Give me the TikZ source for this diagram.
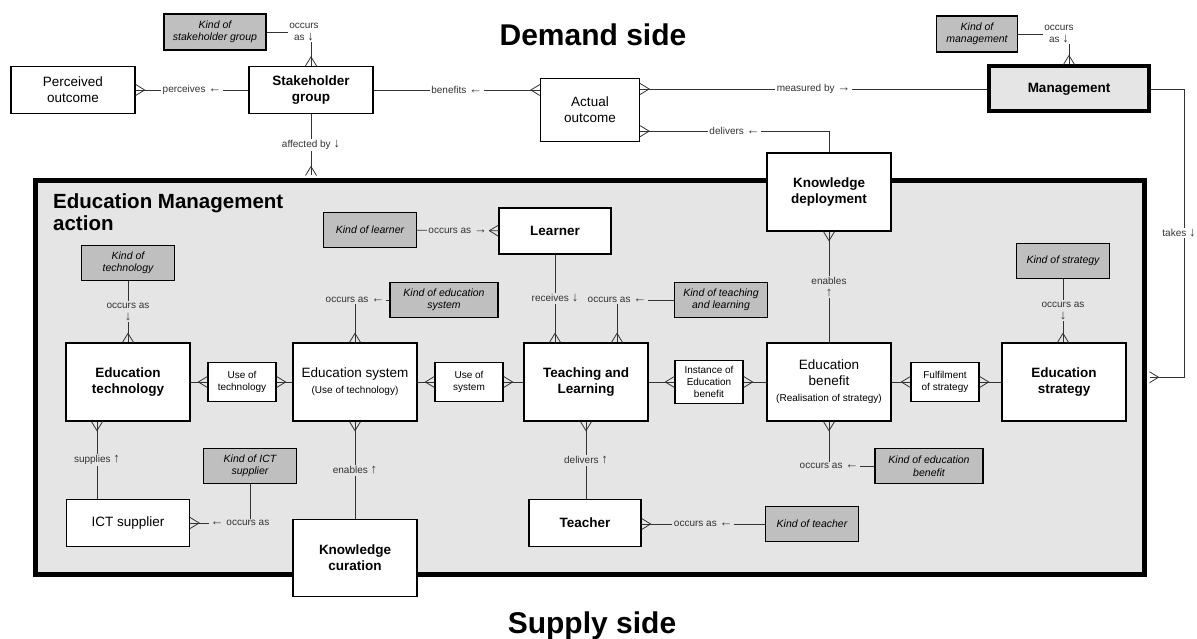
\documentclass[tikz,border=0pt]{standalone}
\usepackage{fontspec}
\setmainfont{Liberation Sans}
\usepackage{tikz}
\usetikzlibrary{positioning,calc,decorations.markings}
\definecolor{emagray}{gray}{0.9}
\definecolor{kindgray}{gray}{0.75}
\definecolor{linegray}{gray}{0.2}
\newcommand{\arw}[1]{{\fontsize{13}{12}\selectfont #1}}

\begin{document}
\begin{tikzpicture}[x=1pt,y=-1pt,
ent/.style={draw,fill=white,line width=1.3pt,inner sep=0pt,align=center,font=\fontsize{13.5}{16}\selectfont},
entb/.style={ent,font=\fontsize{13.5}{16}\selectfont\bfseries},
big/.style={minimum width=124pt,minimum height=78pt},
kind/.style={draw,fill=kindgray,line width=1.3pt,inner sep=0pt,align=center,minimum width=93pt,minimum height=35pt,font=\fontsize{10.5}{12.5}\selectfont\itshape},
link/.style={ent,font=\fontsize{10}{12.5}\selectfont,minimum width=68pt,minimum height=39pt},
conn/.style={draw=linegray,line width=0.8pt},
lbl/.style={fill=white,inner sep=1.5pt,text=linegray,align=center,font=\fontsize{10}{12}\selectfont},
lblin/.style={lbl,fill=emagray},
crowend/.style={postaction={decorate,decoration={markings,mark=at position 1 with {\draw[linegray,line width=0.8pt] (0,5.5pt) -- (-9pt,0) -- (0,-5.5pt);}}}},
crowstart/.style={postaction={decorate,decoration={markings,mark=at position 0 with {\draw[linegray,line width=0.8pt] (0,5.5pt) -- (9pt,0) -- (0,-5.5pt);}}}},
sidetitle/.style={font=\fontsize{30}{32}\selectfont\bfseries,inner sep=0pt,anchor=base}]
\useasboundingbox (0,0) rectangle (1197,639);

% the action frame
\node[draw=black,fill=emagray,line width=5pt,minimum width=1109pt,minimum height=393.5pt,inner sep=0pt] (ema) at (590,377.25) {};
\node[anchor=north west,align=left,inner sep=0pt,font=\fontsize{20.5}{22}\selectfont\bfseries] (ematitle) at (53,193) {Education Management\\action};
\node[sidetitle] (demand) at (593,46) {Demand side};
\node[sidetitle] (supply) at (592,633) {Supply side};

% demand side
\node[kind,minimum width=102pt,minimum height=36pt] (kstake) at (215,32) {Kind of\\stakeholder group};
\node[ent,minimum width=124pt,minimum height=47pt] (perc) at (73,90) {Perceived\\outcome};
\node[entb,minimum width=124pt,minimum height=47pt] (stake) at (311,90) {Stakeholder\\group};
\node[ent,minimum width=99pt,minimum height=63pt] (actual) at (590,110) {Actual\\outcome};
\node[kind,minimum width=81pt,minimum height=36pt] (kmgmt) at (977,34) {Kind of\\management};
\node[entb,fill=emagray,line width=4pt,minimum width=160pt,minimum height=45pt] (mgmt) at (1069,89) {Management};
\node[entb,big] (kdep) at (829,192) {Knowledge\\deployment};

% inside the action
\node[kind] (klearn) at (370,230) {Kind of learner};
\node[entb,minimum width=112pt,minimum height=46pt] (learner) at (555,231) {Learner};
\node[kind] (ktech) at (128,263) {Kind of\\technology};
\node[entb,big] (edtech) at (128,382) {Education\\technology};
\node[link] (usetech) at (242,382) {Use of\\technology};
\node[ent,big] (edsys) at (355,382) {Education system\\{\fontsize{10}{12}\selectfont(Use of technology)}};
\node[kind,minimum width=108pt] (kedsys) at (444,300) {Kind of education\\system};
\node[link] (usesys) at (469,382) {Use of\\system};
\node[entb,big] (tl) at (586,382) {Teaching and\\Learning};
\node[kind] (ktl) at (721,300) {Kind of teaching\\and learning};
\node[link,minimum height=43pt,font=\fontsize{10}{12}\selectfont] (inst) at (709,382) {Instance of\\Education\\benefit};
\node[ent,big] (edben) at (829,382) {Education\\benefit\\{\fontsize{10}{12}\selectfont(Realisation of strategy)}};
\node[kind] (kstrat) at (1063,261) {Kind of strategy};
\node[link] (fulf) at (945,382) {Fulfilment\\of strategy};
\node[entb,big] (edstrat) at (1064,382) {Education\\strategy};
\node[ent,minimum width=123pt,minimum height=47pt] (ict) at (128,523) {ICT supplier};
\node[kind] (kict) at (250,466) {Kind of ICT\\supplier};
\node[entb,big,minimum height=77pt] (kcur) at (355,558) {Knowledge\\curation};
\node[entb,minimum width=112pt,minimum height=47pt] (teacher) at (585,523) {Teacher};
\node[kind] (kteach) at (812,524) {Kind of teacher};
\node[kind,minimum width=108pt] (kben) at (929,466) {Kind of education\\benefit};

% demand side links
\draw[conn,crowend] (kstake) -| node[lbl,pos=0.5,xshift=-7pt]{occurs\\as \arw{↓}} (stake);
\draw[conn,crowend] (stake) -- node[lbl]{perceives \arw{←}} (perc);
\draw[conn,crowend] (stake) -- node[lbl]{affected by \arw{↓}} ($(ema.north -| stake)+(0,-2.5)$);
\draw[conn,crowend] (stake) -- node[lbl]{benefits \arw{←}} (stake -| actual.west);
\draw[conn,crowend] (mgmt) -- node[lbl]{measured by \arw{→}} (mgmt -| actual.east);
\coordinate (actdel) at ($(actual.south east)+(0,-11)$);
\draw[conn,crowend] (kdep) |- node[lbl,pos=0.75]{delivers \arw{←}} (actdel);
\draw[conn,crowend] (kmgmt) -| node[lbl,pos=0.5,xshift=-10pt]{occurs\\as \arw{↓}} (mgmt);
\draw[conn,crowend] (mgmt.east) -- ++(33,0) |- node[lbl,pos=0.25,xshift=-5pt,inner sep=1pt]{takes \arw{↓}} ($(ema.east)+(2.5,0)$);

% links inside the action
\draw[conn,crowend] (klearn) -- node[lblin]{occurs as \arw{→}} (learner);
\draw[conn,crowend] (ktech) -- node[lblin]{occurs as\\\arw{↓}} (edtech);
\draw[conn,crowend] (edtech) -- (usetech);
\draw[conn,crowend] (edsys) -- (usetech);
\draw[conn,crowend] (kedsys) -| node[lblin,pos=0.5]{occurs as \arw{←}} (edsys);
\draw[conn,crowend] (edsys) -- (usesys);
\draw[conn,crowend] (tl) -- (usesys);
\draw[conn,crowend] (learner) -- node[lblin]{receives \arw{↓}} (learner |- tl.north);
\draw[conn,crowend] (ktl) -| node[lblin,pos=0.5]{occurs as \arw{←}} ($(tl.north)+(31,0)$);
\draw[conn,crowend] (tl) -- (inst);
\draw[conn,crowend] (edben) -- (inst);
\draw[conn,crowend] (edben) -- node[lblin]{enables\\\arw{↑}} (kdep);
\draw[conn,crowend] (kstrat) -- node[lblin]{occurs as\\\arw{↓}} (kstrat |- edstrat.north);
\draw[conn,crowend] (edben) -- (fulf);
\draw[conn,crowend] (edstrat) -- (fulf);
\draw[conn,crowstart] ($(edtech.south)+(-31,0)$) -- node[lblin]{supplies \arw{↑}} ($(ict.north)+(-31,0)$);
\draw[conn,crowend] (kict) |- node[lblin,pos=0.5,xshift=-10pt]{\arw{←} occurs as} (ict);
\draw[conn,crowstart] (edsys) -- node[lblin]{enables \arw{↑}} (kcur);
\draw[conn,crowstart] (tl) -- node[lblin]{delivers \arw{↑}} (tl |- teacher.north);
\draw[conn,crowend] (kteach) -- node[lblin]{occurs as \arw{←}} (kteach -| teacher.east);
\draw[conn,crowstart] (edben) |- node[lblin,pos=0.5]{occurs as \arw{←}} (kben);
\end{tikzpicture}
\end{document}
